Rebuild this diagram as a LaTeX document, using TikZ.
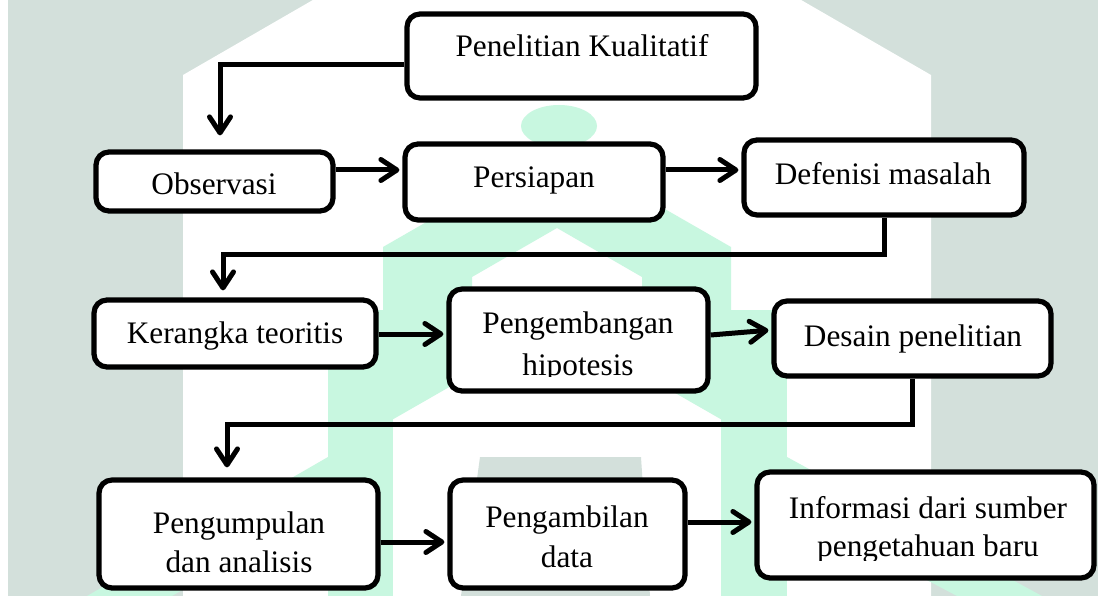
\documentclass[tikz,border=0pt]{standalone}
\usepackage{fontspec}
\setmainfont{Liberation Serif}
\usetikzlibrary{arrows.meta,shadows}
\definecolor{wmgray}{RGB}{211,224,219}
\definecolor{wmmint}{RGB}{200,247,224}
\begin{document}
\begin{tikzpicture}[x=1pt,y=-1pt,
  box/.style={draw=black,line width=5.2pt,rounded corners=13pt,fill=white,inner sep=0pt,
    drop shadow={shadow xshift=2pt,shadow yshift=-2pt,opacity=0.22}},
  lbl/.style={anchor=base,inner sep=0pt,font=\fontsize{31.3pt}{39pt}\selectfont},
  arr/.style={line width=5pt,-{Straight Barb[length=16pt,width=21pt,round]}}]
\useasboundingbox (0,0) rectangle (1098,596);
% ---- watermark ----
\begin{scope}
\clip (0,0) rectangle (1098,596);
\fill[wmgray] (8,0) rectangle (1098,596);
\fill[white] (183,596) -- (183,75) -- (557,-141) -- (931,75) -- (931,596) -- cycle;
\fill[wmmint] (559,126) ellipse [x radius=38pt, y radius=21pt];
\fill[wmmint] (383,425) -- (383,247) -- (557,147) -- (731,247) -- (731,425) -- (642,374)
  -- (642,277) -- (557,228) -- (472,277) -- (472,374) -- cycle;
\fill[wmmint] (328,310) rectangle (393,596);
\fill[wmmint] (721,310) rectangle (787,596);
\fill[wmmint] (328,457) -- (87,596) -- (172,596) -- (328,506) -- cycle;
\fill[wmmint] (787,457) -- (1042,596) -- (957,596) -- (787,506) -- cycle;
\fill[wmgray] (461,596) -- (480,457) -- (641,457) -- (650,596) -- cycle;
\end{scope}
% ---- boxes ----
\node[box,minimum width=349pt,minimum height=84pt] (pk) at (581.5,56) {};
\node[box,minimum width=237pt,minimum height=59pt] (obs) at (214.5,181.5) {};
\node[box,minimum width=258pt,minimum height=76pt] (pers) at (534,182) {};
\node[box,minimum width=280pt,minimum height=75pt] (def) at (884,177.5) {};
\node[box,minimum width=282pt,minimum height=67pt] (ker) at (235,333.5) {};
\node[box,minimum width=259pt,minimum height=102pt] (peng) at (578.5,340) {};
\node[box,minimum width=277pt,minimum height=75pt] (des) at (912.5,338.5) {};
\node[box,minimum width=279pt,minimum height=108pt] (pgp) at (238.5,534) {};
\node[box,minimum width=235pt,minimum height=108pt] (pgb) at (567.5,534) {};
\node[box,minimum width=337pt,minimum height=106pt] (inf) at (925.5,525) {};
% ---- texts ----
\node[lbl] (t1) at (582,57) {Penelitian Kualitatif};
\node[lbl] (t2) at (214,195) {Observasi};
\node[lbl] (t3) at (534,188) {Persiapan};
\node[lbl] (t4) at (883,185) {Defenisi masalah};
\node[lbl] (t5) at (235,343) {Kerangka teoritis};
\node[lbl] (t6a) at (578,333) {Pengembangan};
\begin{scope}
\clip (450,345) rectangle (708,376);
\node[lbl] (t6b) at (578,375) {hipotesis};
\end{scope}
\node[lbl] (t7) at (913,346) {Desain penelitian};
\node[lbl] (t8a) at (239,533) {Pengumpulan};
\node[lbl] (t8b) at (239,572) {dan analisis};
\node[lbl] (t9a) at (567,527) {Pengambilan};
\node[lbl] (t9b) at (567,567) {data};
\node[lbl] (t10a) at (928,518) {Informasi dari sumber};
\begin{scope}
\clip (760,525) rectangle (1090,560);
\node[lbl] (t10b) at (928,556) {pengetahuan baru};
\end{scope}
% ---- connectors ----
\draw[arr] (pk.west |- 0,65) -| ([xshift=5.5pt,yshift=14pt]obs.north);
\draw[arr,shorten >=3pt] (obs.east |- 0,170) -- (pers.west |- 0,170);
\draw[arr,shorten >=3pt] (pers.east |- 0,170) -- (def.west |- 0,170);
\draw[arr] (def.south) |- ([xshift=-12pt]ker.north |- 0,255) -- ([xshift=-12pt,yshift=7pt]ker.north);
\draw[arr,shorten >=3pt] (ker.east |- 0,334) -- (peng.west |- 0,334);
\draw[arr,shorten >=3pt] (peng.east |- 0,335) -- (des.west |- 0,330);
\draw[arr] (des.south) |- ([xshift=-11.5pt]pgp.north |- 0,424) -- ([xshift=-11.5pt,yshift=10pt]pgp.north);
\draw[arr,shorten >=3pt] (pgp.east |- 0,542) -- (pgb.west |- 0,542);
\draw[arr,shorten >=3pt] (pgb.east |- 0,522) -- (inf.west |- 0,522);
\end{tikzpicture}
\end{document}
